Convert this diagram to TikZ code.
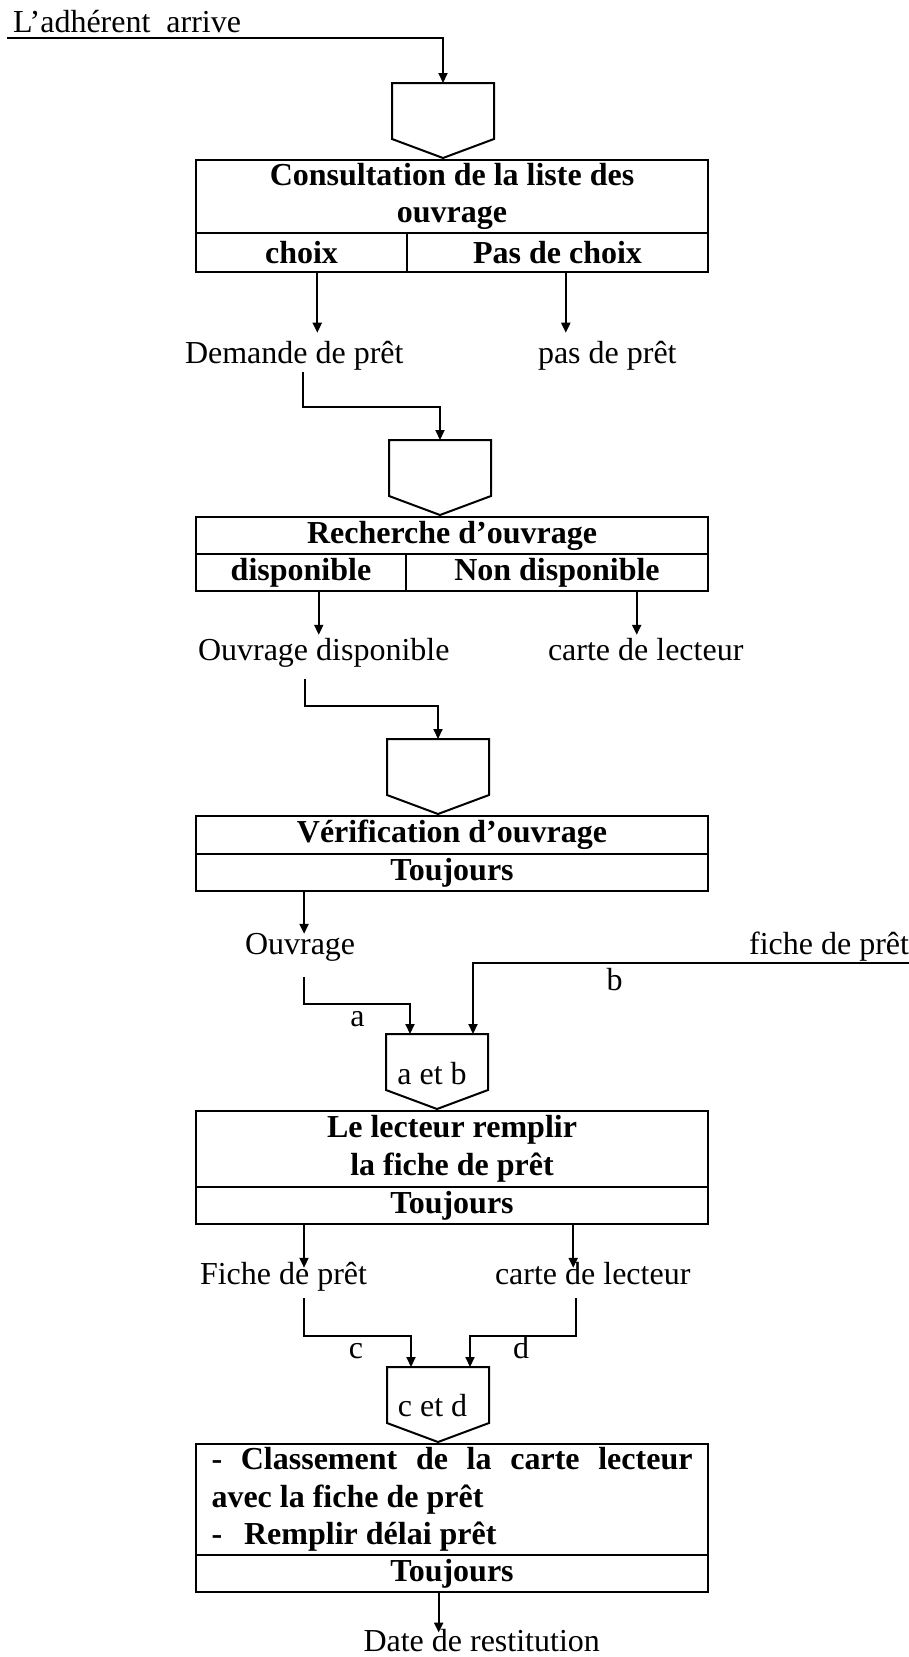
\documentclass[tikz,border=0pt]{standalone}
\usepackage{fontspec}
\setmainfont{Liberation Serif}
\usetikzlibrary{positioning, calc, arrows.meta}
\setlength{\parindent}{0pt}

\begin{document}
\begin{tikzpicture}[
		x=1pt, y=-1pt,
		line width=2pt,
		font=\fontsize{32}{37.5}\selectfont,
		cell/.style={draw, rectangle, line width=2.4pt, inner sep=0pt, outer sep=0pt, align=center, font=\fontsize{32}{37.5}\selectfont\bfseries},
		merge/.style={rectangle, inner sep=0pt, outer sep=0pt, minimum width=102pt, minimum height=56pt},
		txt/.style={inner sep=0pt, outer sep=0pt, anchor=base west},
		lbl/.style={inner sep=0pt, outer sep=0pt, anchor=base},
		arr/.style={-{Triangle[length=10pt, width=9pt]}},
	]
	\useasboundingbox (0,0) rectangle (909,1657);

	\node[txt] (arrive) at (13,32) {L’adhérent~~arrive};
	\node[merge] (m1) at (443,111) {};
	\node[cell, anchor=north, minimum width=512pt, minimum height=73pt] (t1) at (452,160) {Consultation de la liste des\\ouvrage};
	\node[cell, below right=0pt of t1.south west, minimum width=211pt, minimum height=39pt] (t1a) {choix};
	\node[cell, right=0pt of t1a, minimum width=301pt, minimum height=39pt] (t1b) {Pas de choix};
	\node[txt] (dem) at (185,363) {Demande de prêt};
	\node[txt] (nodem) at (538,363) {pas de prêt};

	\node[merge] (m2) at (440,468) {};
	\node[cell, anchor=north, minimum width=512pt, minimum height=37pt] (t2) at (452,517) {Recherche d’ouvrage};
	\node[cell, below right=0pt of t2.south west, minimum width=210pt, minimum height=37pt] (t2a) {disponible};
	\node[cell, right=0pt of t2a, minimum width=302pt, minimum height=37pt] (t2b) {Non disponible};
	\node[txt] (ouvdisp) at (198,660) {Ouvrage disponible};
	\node[txt] (carte1) at (548,660) {carte de lecteur};

	\node[merge] (m3) at (438,767) {};
	\node[cell, anchor=north, minimum width=512pt, minimum height=38pt] (t3) at (452,816) {Vérification d’ouvrage};
	\node[cell, below=0pt of t3, minimum width=512pt, minimum height=37pt] (t3a) {Toujours};
	\node[txt] (ouv) at (245,954) {Ouvrage};
	\node[txt, anchor=base east] (fiche) at (909,954) {fiche de prêt};
	\node[lbl] (lblA) at (357.5,1026) {a};
	\node[lbl] (lblB) at (614.5,990) {b};

	\node[merge] (m4) at (437,1062) {};
	\node[lbl] (ab) at (432,1084) {a et b};
	\node[cell, anchor=north, minimum width=512pt, minimum height=76pt] (t4) at (452,1111) {Le lecteur remplir\\la fiche de prêt};
	\node[cell, below=0pt of t4, minimum width=512pt, minimum height=37pt] (t4a) {Toujours};
	\node[txt] (fichep) at (200,1284) {Fiche de prêt};
	\node[txt] (carte2) at (495,1284) {carte de lecteur};
	\node[lbl] (lblC) at (356,1358) {c};
	\node[lbl] (lblD) at (521,1358) {d};

	\node[merge] (m5) at (438,1395) {};
	\node[lbl] (cd) at (432.5,1416) {c et d};
	\node[cell, anchor=north, minimum width=512pt, minimum height=111pt, inner xsep=15.75pt, text width=481pt, align=justify] (t5) at (452,1444) {- Classement de la carte lecteur\linebreak avec la fiche de prêt\\-\hspace{22pt}Remplir délai prêt};
	\node[cell, below=0pt of t5, minimum width=512pt, minimum height=37pt] (t5a) {Toujours};
	\node[txt] (date) at (363.5,1651.7) {Date de restitution};

	\foreach \m in {m1,m2,m3,m4,m5}
		\draw (\m.north west) -- (\m.south west) -- ($(\m.south)+(0,19)$) -- (\m.south east) -- (\m.north east) -- cycle;

	\draw[arr] ($(arrive.south west)+(-6,6)$) -| (m1.north);
	\draw[arr] ($(dem.north |- t1a.south)+(23,0)$) -- ($(dem.north)+(23,-8)$);
	\draw[arr] ($(nodem.north |- t1b.south)+(-41.5,0)$) -- ($(nodem.north)+(-41.5,-8)$);
	\draw[arr] ($(dem.south)+(8.5,2)$) -- ++(0,35) -| (m2.north);
	\draw[arr] ($(ouvdisp.north |- t2a.south)+(-5,0)$) -- ($(ouvdisp.north)+(-5,-3)$);
	\draw[arr] ($(carte1.north |- t2b.south)+(-9,0)$) -- ($(carte1.north)+(-9,-3)$);
	\draw[arr] ($(ouvdisp.south)+(-19,12)$) -- ++(0,27) -| (m3.north);
	\draw[arr] ($(ouv.north |- t3a.south)+(4,0)$) -- ($(ouv.north)+(4,1)$);
	\draw[arr] ($(ouv.south)+(4,16)$) -- ++(0,27) -| ($(m4.north)+(-27,0)$);
	\draw[arr] ($(fiche.south east)+(0,2)$) -| ($(m4.north)+(36,0)$);
	\draw[arr] ($(fichep.north |- t4a.south)+(20.5,0)$) -- ($(fichep.north)+(20.5,6)$);
	\draw[arr] ($(carte2.north |- t4a.south)+(-19.5,0)$) -- ($(carte2.north)+(-19.5,6)$);
	\draw[arr] ($(fichep.south)+(20.5,7)$) -- ++(0,38) -| ($(m5.north)+(-27,0)$);
	\draw[arr] ($(carte2.south)+(-16.5,14)$) -- ++(0,38) -| ($(m5.north)+(32,0)$);
	\draw[arr] ($(date.north |- t5a.south)+(-43,0)$) -- ($(date.north)+(-43,3)$);
\end{tikzpicture}
\end{document}
